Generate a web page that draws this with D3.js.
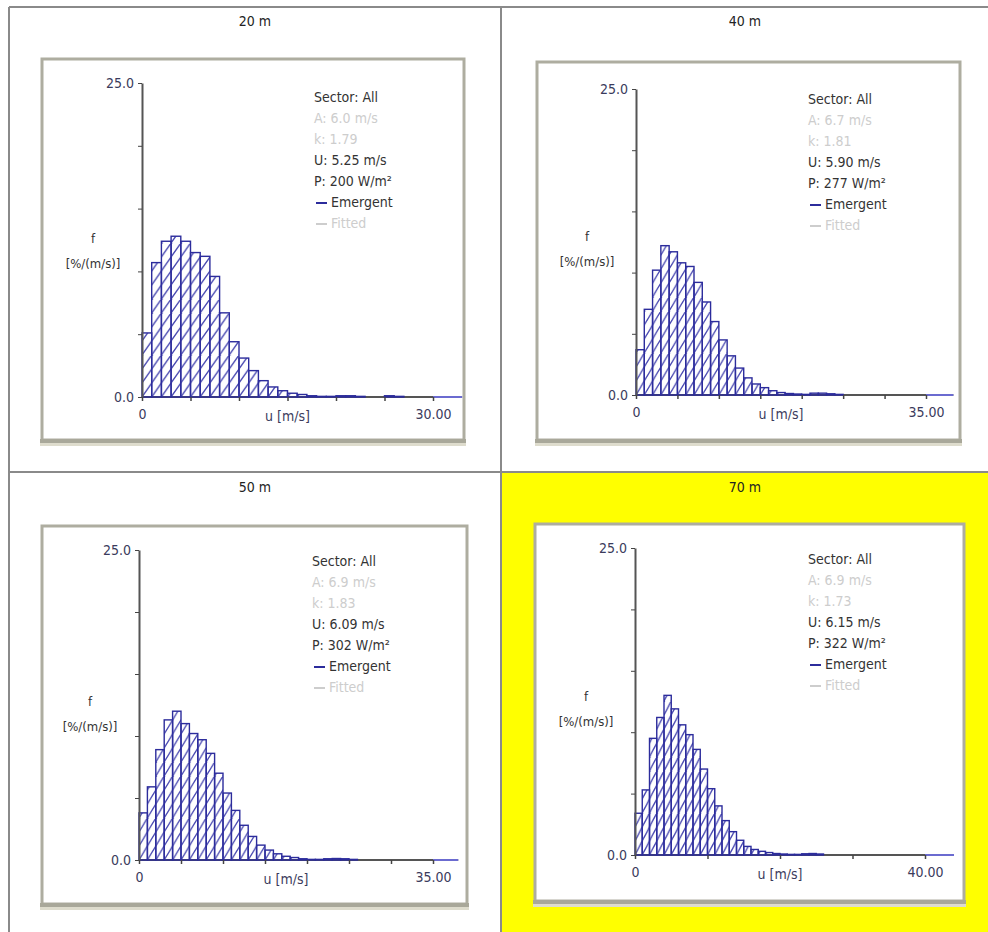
<!DOCTYPE html>
<html>
<head>
<meta charset="utf-8">
<script src="https://cdn.jsdelivr.net/npm/d3@7"></script>
<style>
    body { margin: 0; background: #fff; }
    svg text { font-family: 'DejaVu Sans Condensed', 'DejaVu Sans', sans-serif; }
</style>
</head>
<body>
<div id="viz"></div>
<script>
// Datos de cada altura
let alturas = ['20 m', '40 m', '50 m', '70 m'];
let valoresA = ['6.0', '6.7', '6.9', '6.9'];
let valoresK = ['1.79', '1.81', '1.83', '1.73'];
let valoresU = ['5.25', '5.90', '6.09', '6.15'];
let valoresP = ['200', '277', '302', '322'];

// Máximo del eje X y paso de los ticks
let xMaximos = [30, 35, 35, 40];
let xPasos = [5, 5, 5, 10];
let yTicks = [0, 5, 10, 15, 20, 25];

// Frecuencias [%/(m/s)] por intervalo de 1 m/s
let frec20 = [5.1, 10.7, 12.4, 12.8, 12.4, 11.5, 11.2, 9.6, 6.7, 4.4, 3.1, 2.1, 1.3, 0.8, 0.5, 0.3, 0.2, 0.1, 0.05, 0.05, 0.1, 0.1, 0.05, 0, 0, 0.1, 0.05];
let frec40 = [3.7, 7.0, 10.2, 12.2, 11.7, 10.8, 10.5, 9.2, 7.6, 6.0, 4.5, 3.2, 2.2, 1.4, 0.9, 0.6, 0.35, 0.2, 0.12, 0.08, 0.05, 0.15, 0.15, 0.1, 0.05];
let frec50 = [3.8, 5.9, 8.9, 11.3, 12.0, 11.0, 10.2, 9.7, 8.6, 7.0, 5.4, 4.0, 2.8, 1.9, 1.2, 0.8, 0.5, 0.3, 0.2, 0.1, 0.05, 0.05, 0.1, 0.12, 0.1, 0.05];
let frec70 = [3.4, 5.3, 9.5, 11.2, 13.0, 11.9, 10.6, 9.8, 8.6, 7.0, 5.4, 4.0, 2.8, 1.9, 1.2, 0.7, 0.45, 0.3, 0.2, 0.12, 0.08, 0.05, 0.05, 0.1, 0.12, 0.08];
let frecuencias = [frec20, frec40, frec50, frec70];

// Dimensiones
let w = 988;
let h = 932;
let azul = '#2c2c9c';
let gris = '#cdcdcd';

// Posición de cada panel en la página
let paneles = [
    {cx: 255, ty: 22,  marco: [42, 59, 422, 381],  ox: 142, y0: 397, yTop: 83,  xMaxPx: 433, xFin: 33,   lx: 314, ly: 98},
    {cx: 745, ty: 22,  marco: [537, 62, 423, 378], ox: 636, y0: 395, yTop: 89,  xMaxPx: 926, xFin: 38.3, lx: 808, ly: 100},
    {cx: 255, ty: 488, marco: [42, 526, 425, 378], ox: 139, y0: 860, yTop: 550, xMaxPx: 433, xFin: 38,   lx: 312, ly: 562},
    {cx: 745, ty: 488, marco: [535, 524, 429, 377], ox: 635, y0: 855, yTop: 548, xMaxPx: 925, xFin: 44,  lx: 808, ly: 560}
];

let svg = d3.select('#viz')
    .append('svg')
        .attr('width', w)
        .attr('height', h);

let defs = svg.append('defs');

// Celda seleccionada (70 m) en amarillo
svg.append('rect')
    .attr('x', 502).attr('y', 473)
    .attr('width', w - 502).attr('height', h - 473)
    .attr('fill', '#ffff00');

// Rejilla de la tabla
let rejilla = [[9, 7, w, 7], [9, 7, 9, h], [501, 7, 501, h], [9, 472, w, 472]];
svg.selectAll('line.rejilla')
    .data(rejilla)
    .enter().append('line')
        .attr('class', 'rejilla')
        .attr('x1', d => d[0]).attr('y1', d => d[1])
        .attr('x2', d => d[2]).attr('y2', d => d[3])
        .attr('stroke', '#8a8a8a')
        .attr('stroke-width', 2);

paneles.forEach(graficarPanel);

function graficarPanel(p, i) {
    let g = svg.append('g');
    let [fx, fy, fw, fh] = p.marco;

    // Título de la celda
    g.append('text')
        .attr('x', p.cx).attr('y', p.ty)
        .attr('text-anchor', 'middle')
        .attr('dominant-baseline', 'middle')
        .style('font-size', '14px')
        .attr('fill', '#222')
        .text(alturas[i]);

    // Marco del gráfico
    g.append('rect')
        .attr('x', fx).attr('y', fy)
        .attr('width', fw).attr('height', fh)
        .attr('fill', '#fff')
        .attr('stroke', '#aeada0')
        .attr('stroke-width', 3);
    g.append('rect')
        .attr('x', fx - 2).attr('y', fy + fh - 1)
        .attr('width', fw + 4).attr('height', 4)
        .attr('fill', '#a9a89a');
    g.append('rect')
        .attr('x', fx - 2).attr('y', fy + fh + 3)
        .attr('width', fw + 4).attr('height', 3)
        .attr('fill', '#dedccd');

    // Escalas
    let x = d3.scaleLinear()
        .domain([0, xMaximos[i]])
        .range([p.ox, p.xMaxPx]);
    let y = d3.scaleLinear()
        .domain([0, 25])
        .range([p.y0, p.yTop]);

    let anchoBin = x(1) - x(0);

    // Trama diagonal de las barras
    defs.append('pattern')
        .attr('id', 'trama' + i)
        .attr('patternUnits', 'userSpaceOnUse')
        .attr('width', anchoBin)
        .attr('height', 14)
        .attr('patternTransform', `translate(${p.ox},${p.y0})`)
        .append('path')
            .attr('d', `M0,14L${anchoBin},0M${-anchoBin},14L0,0M${anchoBin},14L${2 * anchoBin},0`)
            .attr('stroke', '#4646b0')
            .attr('stroke-width', 1.3);

    // Eje X (línea gris hasta el final)
    g.append('line')
        .attr('x1', x(0)).attr('x2', x(p.xFin))
        .attr('y1', y(0)).attr('y2', y(0))
        .attr('stroke', '#555')
        .attr('stroke-width', 2);
    g.append('line')
        .attr('x1', x(xMaximos[i])).attr('x2', x(p.xFin))
        .attr('y1', y(0)).attr('y2', y(0))
        .attr('stroke', '#6b6bd0')
        .attr('stroke-width', 2);

    // Barras
    g.selectAll('rect.barra')
        .data(frecuencias[i])
        .enter().append('rect')
            .attr('class', 'barra')
            .attr('x', (d, j) => x(j))
            .attr('y', d => y(d))
            .attr('width', anchoBin)
            .attr('height', d => y(0) - y(d))
            .attr('fill', `url(#trama${i})`)
            .attr('stroke', azul)
            .attr('stroke-width', 1.4);

    // Eje Y
    let ejeY = g.append('g')
        .attr('transform', `translate(${p.ox},0)`)
        .call(d3.axisLeft(y)
            .tickValues(yTicks)
            .tickSize(4)
            .tickSizeOuter(0)
            .tickPadding(4)
            .tickFormat(d => (d == 0 || d == 25) ? d.toFixed(1) : ''));
    ejeY.select('.domain').attr('stroke', '#555').attr('stroke-width', 2);
    ejeY.selectAll('.tick line').attr('stroke', '#444');
    ejeY.selectAll('text')
        .style('font-size', '14px')
        .attr('fill', '#3b3b5c');

    // Ticks eje X
    let ejeX = g.append('g')
        .attr('transform', `translate(0,${p.y0})`)
        .call(d3.axisBottom(x)
            .tickValues(d3.range(0, xMaximos[i] + 1, xPasos[i]))
            .tickSize(4)
            .tickSizeOuter(0)
            .tickPadding(8)
            .tickFormat(d => d == 0 ? '0' : (d == xMaximos[i] ? d.toFixed(2) : '')));
    ejeX.select('.domain').remove();
    ejeX.selectAll('.tick line').attr('stroke', '#444').attr('stroke-width', 1.5);
    ejeX.selectAll('text')
        .style('font-size', '14px')
        .attr('fill', '#3b3b5c');

    g.append('text')
        .attr('x', x(xMaximos[i] / 2))
        .attr('y', p.y0 + 20)
        .attr('text-anchor', 'middle')
        .attr('dominant-baseline', 'middle')
        .style('font-size', '14px')
        .attr('fill', '#3b3b5c')
        .text('u [m/s]');

    // Etiqueta eje Y
    g.append('text')
        .attr('x', p.ox - 49).attr('y', p.y0 - 158)
        .attr('text-anchor', 'middle')
        .attr('dominant-baseline', 'middle')
        .style('font-size', '13px')
        .attr('fill', '#333')
        .text('f');
    g.append('text')
        .attr('x', p.ox - 49).attr('y', p.y0 - 133)
        .attr('text-anchor', 'middle')
        .attr('dominant-baseline', 'middle')
        .style('font-size', '13px')
        .attr('fill', '#333')
        .text('[%/(m/s)]');

    // Leyenda
    let leyenda = [
        {t: 'Sector: All', c: '#333'},
        {t: `A: ${valoresA[i]} m/s`, c: gris},
        {t: `k: ${valoresK[i]}`, c: gris},
        {t: `U: ${valoresU[i]} m/s`, c: '#333'},
        {t: `P: ${valoresP[i]} W/m²`, c: '#333'},
        {t: 'Emergent', c: '#333', raya: azul},
        {t: 'Fitted', c: gris, raya: gris}
    ];
    leyenda.forEach(function(e, j) {
        let ly = p.ly + j * 21;
        let tx = p.lx;
        if (e.raya) {
            g.append('line')
                .attr('x1', p.lx + 2).attr('x2', p.lx + 13)
                .attr('y1', ly).attr('y2', ly)
                .attr('stroke', e.raya)
                .attr('stroke-width', 2);
            tx = p.lx + 17;
        }
        g.append('text')
            .attr('x', tx).attr('y', ly)
            .attr('dominant-baseline', 'middle')
            .style('font-size', '14px')
            .attr('fill', e.c)
            .text(e.t);
    });
}
</script>
</body>
</html>
